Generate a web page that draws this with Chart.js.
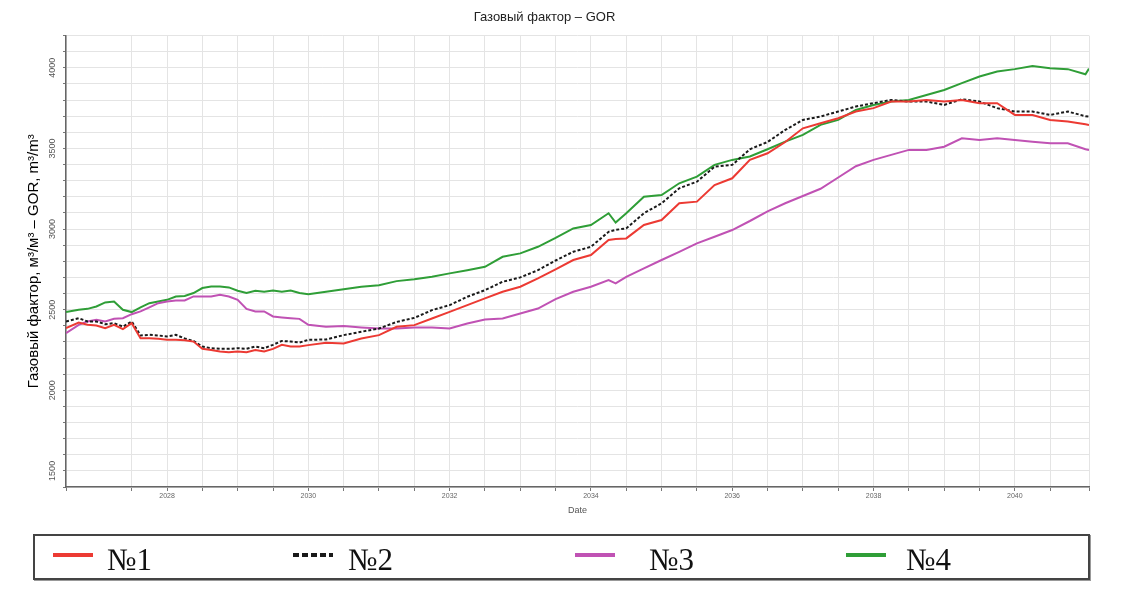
<!DOCTYPE html>
<html>
<head>
    <meta charset="utf-8"/>
    <title>Газовый фактор – GOR</title>
    <script src="https://cdn.jsdelivr.net/npm/chart.js@4.4.0/dist/chart.umd.min.js"></script>
    <style>
        body { margin: 0; background: #fff; }
        .wrap { position: relative; width: 1121px; height: 594px; }
        .legend {
            position: absolute; left: 33px; top: 534px; width: 1057px; height: 46px;
            box-sizing: border-box; border: 2px solid #444; box-shadow: 1px 1px 0 #999;
        }
        .legend .sample { position: absolute; top: 17px; width: 40px; height: 4px; }
        .legend .txt {
            position: absolute; top: 8px; color: #111;
            font-family: "Liberation Serif", "Times New Roman", serif; font-size: 31px; line-height: 31px;
        }
    </style>
</head>

<body>
<div class="wrap">
    <canvas id="gorChart"></canvas>
    <div class="legend" id="legend"></div>
</div>

<script>
    // time axis, decimal years (finer steps where the early curves jump)
    const years = [2026.57, 2026.75, 2026.875, 2027, 2027.125, 2027.25, 2027.375, 2027.5, 2027.625, 2027.75,
        2027.875, 2028, 2028.125, 2028.25, 2028.375, 2028.5, 2028.625, 2028.75, 2028.875, 2029,
        2029.125, 2029.25, 2029.375, 2029.5, 2029.625, 2029.75, 2029.875, 2030,
        2030.25, 2030.5, 2030.75, 2031, 2031.25, 2031.5, 2031.75, 2032, 2032.25, 2032.5,
        2032.75, 2033, 2033.25, 2033.5, 2033.75, 2034, 2034.25, 2034.35, 2034.5, 2034.75,
        2035, 2035.25, 2035.5, 2035.75, 2036, 2036.25, 2036.5, 2036.75, 2037, 2037.25,
        2037.5, 2037.75, 2038, 2038.25, 2038.5, 2038.75, 2039, 2039.25, 2039.5, 2039.75,
        2040, 2040.25, 2040.5, 2040.75, 2041, 2041.05];

    const seriesNames = ['№1', '№2', '№3', '№4'];

    // GOR, m3/m3
    const gor1 = [2385, 2420, 2406, 2402, 2385, 2406, 2379, 2416, 2323, 2323,
        2319, 2313, 2313, 2310, 2302, 2257, 2250, 2240, 2236, 2240,
        2236, 2250, 2240, 2257, 2282, 2271, 2271, 2280,
        2294, 2290, 2321, 2342, 2394, 2404, 2445, 2486, 2528, 2570,
        2611, 2642, 2694, 2750, 2808, 2839, 2932, 2938, 2942, 3025,
        3056, 3160, 3170, 3273, 3315, 3430, 3470, 3540, 3625, 3656,
        3687, 3729, 3750, 3791, 3791, 3801, 3791, 3801, 3781, 3781,
        3708, 3708, 3677, 3667, 3650, 3646];

    const gor2 = [2427, 2447, 2427, 2427, 2410, 2416, 2395, 2427, 2340, 2344,
        2340, 2334, 2344, 2321, 2306, 2271, 2261, 2257, 2257, 2261,
        2257, 2271, 2261, 2282, 2306, 2302, 2296, 2313,
        2315, 2342, 2363, 2383, 2424, 2449, 2497, 2528, 2580, 2621,
        2673, 2700, 2745, 2805, 2859, 2890, 2983, 2995, 3004, 3098,
        3160, 3253, 3294, 3387, 3398, 3495, 3540, 3615, 3677, 3698,
        3729, 3760, 3781, 3801, 3791, 3791, 3770, 3805, 3791, 3750,
        3729, 3729, 3708, 3729, 3700, 3698];

    const gor3 = [2354, 2406, 2427, 2437, 2427, 2443, 2447, 2472, 2489, 2514,
        2540, 2551, 2557, 2557, 2582, 2582, 2582, 2592, 2582, 2561,
        2505, 2489, 2489, 2458, 2452, 2447, 2443, 2406,
        2394, 2398, 2390, 2383, 2383, 2390, 2390, 2383, 2414, 2439,
        2445, 2476, 2507, 2565, 2611, 2642, 2683, 2663, 2704, 2756,
        2808, 2859, 2911, 2952, 2994, 3050, 3110, 3160, 3205, 3250,
        3320, 3390, 3429, 3460, 3491, 3491, 3511, 3563, 3553, 3563,
        3553, 3542, 3532, 3532, 3495, 3491];

    const gor4 = [2485, 2499, 2505, 2520, 2545, 2550, 2499, 2485, 2514, 2540,
        2551, 2561, 2582, 2585, 2603, 2634, 2644, 2644, 2638, 2617,
        2603, 2617, 2611, 2619, 2611, 2619, 2603, 2595,
        2611, 2626, 2642, 2652, 2677, 2688, 2704, 2725, 2745, 2766,
        2828, 2849, 2890, 2945, 3004, 3025, 3098, 3040, 3098, 3201,
        3211, 3284, 3325, 3398, 3429, 3450, 3495, 3542, 3584, 3646,
        3677, 3739, 3770, 3791, 3801, 3832, 3863, 3905, 3946, 3977,
        3992, 4012, 3998, 3992, 3960, 3995];

    function toPoints(values) {
        return years.map((t, i) => ({x: t, y: values[i]}));
    }

    Chart.defaults.font.family = '"Liberation Sans", Arial, sans-serif';

    const gridColor = '#e4e4e4';

    const config = {
        type: 'line',
        data: {
            datasets: [
                {label: seriesNames[0], data: toPoints(gor1), borderColor: '#ec3a33', borderWidth: 2},
                {label: seriesNames[1], data: toPoints(gor2), borderColor: '#1a1a1a', borderWidth: 2, borderDash: [3, 2]},
                {label: seriesNames[2], data: toPoints(gor3), borderColor: '#c052b4', borderWidth: 2},
                {label: seriesNames[3], data: toPoints(gor4), borderColor: '#2f9e37', borderWidth: 2}
            ]
        },
        options: {
            responsive: true,
            maintainAspectRatio: false,
            animation: false,
            elements: {point: {radius: 0}, line: {tension: 0}},
            layout: {padding: {left: 0, right: 32, top: 0, bottom: 72}},
            plugins: {
                legend: {display: false},
                tooltip: {enabled: false},
                title: {
                    display: true,
                    text: 'Газовый фактор – GOR',
                    color: '#222',
                    font: {size: 13, weight: 'normal'},
                    padding: {top: 10, bottom: 10}
                }
            },
            scales: {
                x: {
                    type: 'linear',
                    min: 2026.57,
                    max: 2041.05,
                    ticks: {
                        stepSize: 0.5,
                        autoSkip: false,
                        maxRotation: 0,
                        padding: 1,
                        color: '#666',
                        font: {size: 7},
                        callback: function (v) {
                            const r = Math.round(v);
                            return (Math.abs(v - r) < 1e-6 && r % 2 === 0) ? String(r) : '';
                        }
                    },
                    grid: {color: gridColor, tickLength: 4, tickColor: '#777'},
                    border: {color: '#666', width: 1.5},
                    title: {display: true, text: 'Date', color: '#555', font: {size: 9}, padding: {top: 2, bottom: 6}},
                    afterFit: function (scale) { scale.height = 35; }
                },
                y: {
                    min: 1400,
                    max: 4200,
                    ticks: {
                        stepSize: 100,
                        autoSkip: false,
                        minRotation: 90,
                        maxRotation: 90,
                        crossAlign: 'center',
                        padding: 0,
                        color: '#555',
                        font: {size: 9},
                        callback: function (v) { return v % 500 === 0 ? String(v) : ''; }
                    },
                    grid: {color: gridColor, tickLength: 3, tickColor: '#777'},
                    border: {color: '#666', width: 1.5},
                    title: {
                        display: true,
                        text: 'Газовый фактор, м³/м³ – GOR, m³/m³',
                        color: '#000',
                        font: {size: 15},
                        padding: {top: 25}
                    },
                    afterFit: function (scale) { scale.width = 66; }
                }
            }
        }
    };

    const gorChart = new Chart(document.getElementById('gorChart'), config);

    /**
     * Boxed legend under the plot, built from the chart's datasets
     */
    function buildLegend(chart) {
        const slots = [[18, 72], [258, 313], [540, 614], [811, 871]];
        const box = document.getElementById('legend');
        chart.data.datasets.forEach(function (ds, i) {
            const sample = document.createElement('div');
            sample.className = 'sample';
            sample.style.left = slots[i][0] + 'px';
            if (ds.borderDash) {
                sample.style.background = 'repeating-linear-gradient(90deg, ' + ds.borderColor +
                    ' 0 6px, transparent 6px 9px)';
            } else {
                sample.style.background = ds.borderColor;
            }
            const txt = document.createElement('span');
            txt.className = 'txt';
            txt.style.left = slots[i][1] + 'px';
            txt.textContent = ds.label;
            box.appendChild(sample);
            box.appendChild(txt);
        });
    }

    buildLegend(gorChart);
</script>
</body>
</html>
